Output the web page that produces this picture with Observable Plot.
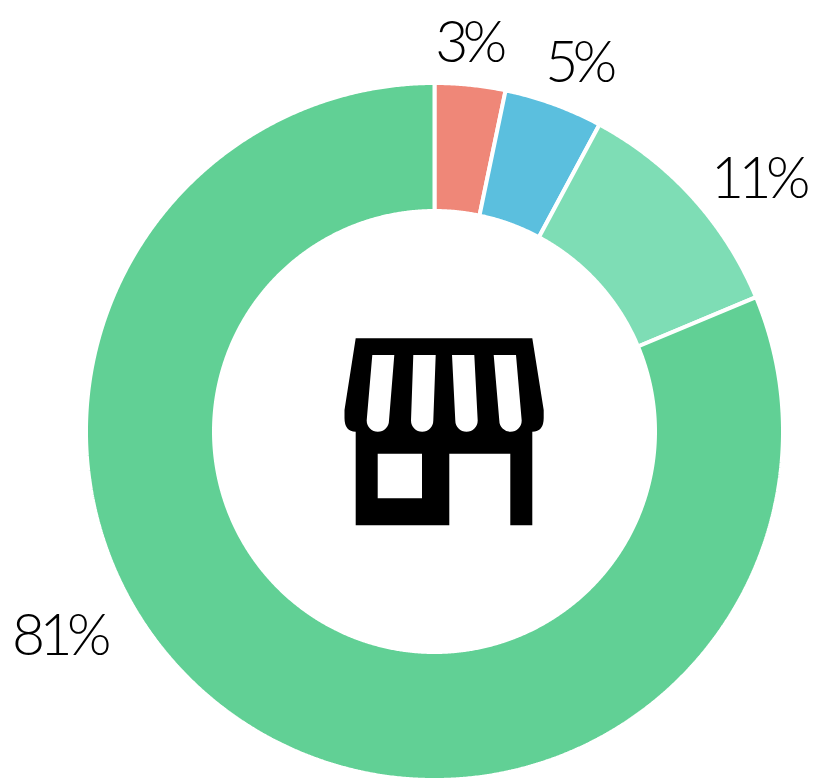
<!DOCTYPE html>
<html>
<head>
<meta charset="utf-8">
<script src="https://cdn.jsdelivr.net/npm/d3@7"></script>
<script src="https://cdn.jsdelivr.net/npm/@observablehq/plot@0.6"></script>
<style>
html,body{margin:0;padding:0;background:#fff}
svg{display:block}
svg text{letter-spacing:-5.5px}
</style>
</head>
<body>
<div id="chart"></div>
<script>
const labels = ["3%", "5%", "11%", "81%"];
const shares = [3.27, 4.58, 10.85, 81.3];
const colors = ["#ef8778", "#5bbfde", "#7eddb5", "#61d095"];

// layout: chart units are pixels from the ring's centre, y pointing up
const outerR = 348.5, innerR = 220.5;
const labelX = [34, 144, 323.5, -375.5];
const labelY = [388, 367.5, 252, -205];

const total = d3.sum(shares);
let cum = 0;
const ring = [];
shares.forEach((s, i) => {
  const a0 = cum / total * 2 * Math.PI;
  cum += s;
  const a1 = cum / total * 2 * Math.PI;
  const n = Math.max(4, Math.ceil((a1 - a0) / 0.005));
  for (let k = 0; k <= n; k++) {
    const a = a0 + (a1 - a0) * k / n;
    ring.push({label: labels[i], x: outerR * Math.sin(a), y: outerR * Math.cos(a)});
  }
  for (let k = n; k >= 0; k--) {
    const a = a0 + (a1 - a0) * k / n;
    ring.push({label: labels[i], x: innerR * Math.sin(a), y: innerR * Math.cos(a)});
  }
});

const iconPath = [
  "M355.7 338.3H532.3L543.7 410V418Q543.7 431.7 532.3 431.7V525.3H510.3V453.7H449.3V525.3H355.7V431.7Q344.5 431.7 344.5 418V410Z",
  "M377.7 453.7H422V498.3H377.7Z",
  "M372.3 355H394.3L389 420.5A11.15 11.15 0 0 1 366.7 420.5Z",
  "M413.3 355H435.7L433.3 420.5A11.15 11.15 0 0 1 411 420.5Z",
  "M452 355H474.3L477.7 420.5A11.15 11.15 0 0 1 455.3 420.5Z",
  "M493.7 355H516L521.7 420.5A11.15 11.15 0 0 1 499.3 420.5Z"
].join("");

const chart = Plot.plot({
  width: 820,
  height: 778,
  margin: 0,
  style: {background: "#fff"},
  x: {domain: [-434, 386], range: [0, 820], axis: null},
  y: {domain: [431, -347], range: [0, 778], axis: null},
  color: {domain: labels, range: colors},
  marks: [
    Plot.line(ring, {
      x: "x", y: "y", z: "label", fill: "label",
      stroke: "#fff", strokeWidth: 4, curve: "linear-closed", strokeLinejoin: "miter"
    }),
    Plot.text(labels, {
      x: (d, i) => labelX[i],
      y: (d, i) => labelY[i],
      text: d => d,
      fontFamily: "Lato",
      fontWeight: 300,
      fontSize: 57,
      fill: "#000"
    }),
    () => d3.create("svg:path").attr("d", iconPath).attr("fill", "#000").attr("fill-rule", "evenodd").node()
  ]
});
document.getElementById("chart").append(chart);
</script>
</body>
</html>
